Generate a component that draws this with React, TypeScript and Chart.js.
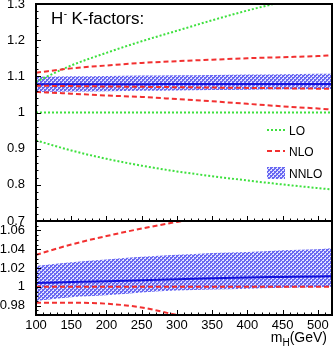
import React, { useEffect, useRef } from "react";
import { Chart, registerables } from "chart.js";

Chart.register(...registerables);

// ---------- data ----------
const massGeV = [100, 150, 200, 250, 300, 350, 400, 450, 500, 520];

// top panel: K-factors
const loUpper = [1.085, 1.13, 1.165, 1.197, 1.226, 1.255, 1.282, 1.306, 1.328, 1.336];
const loCentral = [1, 1, 1, 1, 1, 1, 1, 1, 1, 1];
const loLower = [0.923, 0.895, 0.872, 0.853, 0.837, 0.824, 0.812, 0.801, 0.791, 0.787];

const nloUpper = [1.11, 1.122, 1.13, 1.137, 1.142, 1.146, 1.15, 1.153, 1.156, 1.158];
const nloCentral = [1.074, 1.073, 1.072, 1.071, 1.07, 1.069, 1.068, 1.067, 1.066, 1.066];
const nloLower = [1.057, 1.052, 1.047, 1.043, 1.037, 1.031, 1.024, 1.017, 1.011, 1.008];

const nnloUpper = [1.099, 1.1, 1.101, 1.102, 1.103, 1.104, 1.105, 1.106, 1.107, 1.107];
const nnloCentral = [1.078, 1.078, 1.078, 1.078, 1.079, 1.079, 1.079, 1.079, 1.079, 1.079];
const nnloLower = [1.057, 1.058, 1.059, 1.06, 1.061, 1.062, 1.063, 1.064, 1.065, 1.065];

// bottom panel: normalised to NLO central
const nloUpperRatio = [1.034, 1.045, 1.054, 1.062, 1.069, 1.075, 1.08, 1.084, 1.088, 1.09];
const nloCentralRatio = [1, 1, 1, 1, 1, 1, 1, 1, 1, 1];
const nloLowerRatio = [0.983, 0.983, 0.982, 0.978, 0.97, 0.963, 0.957, 0.952, 0.948, 0.946];
const nnloUpperRatio = [1.022, 1.026, 1.029, 1.032, 1.034, 1.036, 1.037, 1.039, 1.04, 1.041];
const nnloCentralRatio = [1.004, 1.005, 1.006, 1.007, 1.008, 1.009, 1.01, 1.0105, 1.011, 1.0113];
const nnloLowerRatio = [0.985, 0.989, 0.991, 0.994, 0.996, 0.997, 0.998, 0.999, 0.9995, 1.0];

const legendLabels = ["LO", "NLO", "NNLO"];
const titleMain = "H";
const titleSup = "-";
const titleRest = "K-factors:";
const xTitleMain = "m";
const xTitleSub = "H";
const xTitleRest = "(GeV)";

// axis ranges / tick labels
const xRange = [100, 520];
const xTickLabels = [100, 150, 200, 250, 300, 350, 400, 450, 500];
const xMajorStep = 50;
const xMinorStep = 10;
const topYRange = [0.7, 1.3];
const topYTickLabels = [0.7, 0.8, 0.9, 1, 1.1, 1.2, 1.3];
const topYMajor = 0.1;
const topYMinor = 0.02;
const botYRange = [0.97, 1.07];
const botYTickLabels = [0.98, 1, 1.02, 1.04, 1.06];
const botYMajor = 0.02;
const botYMinor = 0.005;

// ---------- styling ----------
const FONT = "'Liberation Sans', Arial, Helvetica, sans-serif";
const GREEN = "#3ee03e";
const RED = "#f23030";
const BLUE = "#1414dc";

function makePattern(): CanvasPattern | string {
  const c = document.createElement("canvas");
  c.width = 4;
  c.height = 4;
  const g = c.getContext("2d");
  if (!g) return "rgb(130,130,240)";
  g.fillStyle = "rgb(105,105,242)";
  g.fillRect(0, 0, 4, 4);
  g.fillStyle = "rgb(228,228,255)";
  g.fillRect(0, 0, 2, 1);
  g.fillRect(2, 2, 2, 1);
  g.fillRect(3, 1, 1, 1);
  g.fillRect(1, 3, 1, 1);
  return g.createPattern(c, "repeat") || "rgb(130,130,240)";
}

const toXY = (ys: number[]) => massGeV.map((x, i) => ({ x, y: ys[i] }));

function line(label: string, ys: number[], color: string, dash: number[], order: number) {
  return {
    label,
    data: toXY(ys),
    borderColor: color,
    borderDash: dash,
    borderWidth: 2,
    pointRadius: 0,
    fill: false,
    cubicInterpolationMode: "monotone",
    order,
  };
}

function band(label: string, lower: number[], upper: number[], fillStyle: any, order: number) {
  return [
    {
      label: label + " low",
      data: toXY(lower),
      borderColor: "rgba(0,0,0,0)",
      borderWidth: 0,
      pointRadius: 0,
      fill: false,
      cubicInterpolationMode: "monotone",
      order,
    },
    {
      label,
      data: toXY(upper),
      borderColor: "rgba(0,0,0,0)",
      borderWidth: 0,
      pointRadius: 0,
      fill: "-1",
      backgroundColor: fillStyle,
      cubicInterpolationMode: "monotone",
      order,
    },
  ];
}

const fmt = (v: any) => String(parseFloat(Number(v).toFixed(3)));

function frameTicksPlugin(yMin: number, yMax: number, yMajor: number, yMinor: number) {
  return {
    id: "frameTicks",
    afterDatasetsDraw(chart: any) {
      const { ctx, chartArea: a, scales } = chart;
      const xs = scales.x;
      const ys = scales.y;
      ctx.save();
      ctx.strokeStyle = "#000";
      ctx.lineWidth = 1;
      ctx.setLineDash([]);
      ctx.beginPath();
      const ny = Math.round((yMax - yMin) / yMinor);
      for (let i = 0; i <= ny; i++) {
        const v = yMin + i * yMinor;
        const r = v / yMajor;
        const major = Math.abs(r - Math.round(r)) < 1e-6;
        const p = Math.round(ys.getPixelForValue(v)) + 0.5;
        const len = major ? 5 : 2.5;
        ctx.moveTo(a.left, p);
        ctx.lineTo(a.left + len, p);
      }
      const nx = Math.round((xRange[1] - xRange[0]) / xMinorStep);
      for (let i = 0; i <= nx; i++) {
        const v = xRange[0] + i * xMinorStep;
        const major = v % xMajorStep === 0;
        const p = Math.round(xs.getPixelForValue(v)) + 0.5;
        const len = major ? 5 : 2.5;
        ctx.moveTo(p, a.bottom);
        ctx.lineTo(p, a.bottom - len);
      }
      ctx.stroke();
      ctx.lineWidth = 2;
      ctx.strokeRect(a.left, a.top, a.right - a.left, a.bottom - a.top);
      ctx.restore();
    },
  };
}

function makeOptions(yRange: number[], yLabels: number[], padding: any, showX: boolean): any {
  return {
    responsive: false,
    animation: false,
    devicePixelRatio: 1,
    layout: { padding },
    plugins: { legend: { display: false }, tooltip: { enabled: false }, title: { display: false } },
    scales: {
      x: {
        type: "linear",
        min: xRange[0],
        max: xRange[1],
        display: showX,
        grid: { display: false, drawTicks: false },
        border: { display: false },
        afterBuildTicks: (s: any) => {
          s.ticks = xTickLabels.map((value) => ({ value }));
        },
        ticks: {
          autoSkip: false,
          maxRotation: 0,
          padding: 3,
          color: "#000",
          font: { family: FONT, size: 13 },
          callback: (v: any) => fmt(v),
        },
        afterFit: (s: any) => {
          s.height = showX ? 33 : 0;
          s.paddingLeft = 0;
          s.paddingRight = 0;
        },
      },
      y: {
        type: "linear",
        min: yRange[0],
        max: yRange[1],
        grid: { display: false, drawTicks: false },
        border: { display: false },
        afterBuildTicks: (s: any) => {
          s.ticks = yLabels.map((value) => ({ value }));
        },
        ticks: {
          autoSkip: false,
          padding: 11,
          color: "#000",
          font: { family: FONT, size: 13 },
          callback: (v: any) => fmt(v),
        },
        afterFit: (s: any) => {
          s.width = 36;
          s.paddingTop = 0;
          s.paddingBottom = 0;
        },
      },
    },
  };
}

const topTextPlugin = (pattern: any) => ({
  id: "topText",
  afterDraw(chart: any) {
    const { ctx } = chart;
    ctx.save();
    ctx.fillStyle = "#000";
    ctx.textBaseline = "alphabetic";
    ctx.textAlign = "left";
    // title
    ctx.font = `17px ${FONT}`;
    ctx.fillText(titleMain, 51, 23.5);
    const hw = ctx.measureText(titleMain).width;
    ctx.font = `10px ${FONT}`;
    ctx.fillText(titleSup, 51 + hw + 0.5, 16.5);
    ctx.font = `17px ${FONT}`;
    ctx.fillText(titleRest, 71.5, 23.5);

    // legend
    const x0 = 267;
    const x1 = 285;
    const tx = 289;
    ctx.lineWidth = 2;
    ctx.strokeStyle = GREEN;
    ctx.setLineDash([2, 2]);
    ctx.beginPath();
    ctx.moveTo(x0, 130);
    ctx.lineTo(x1, 130);
    ctx.stroke();
    ctx.strokeStyle = RED;
    ctx.setLineDash([5, 3]);
    ctx.beginPath();
    ctx.moveTo(x0, 151);
    ctx.lineTo(x1, 151);
    ctx.stroke();
    ctx.setLineDash([]);
    ctx.fillStyle = pattern;
    ctx.fillRect(x0, 167, x1 - x0, 12);
    ctx.fillStyle = "#000";
    ctx.font = `12px ${FONT}`;
    ctx.fillText(legendLabels[0], tx, 135);
    ctx.fillText(legendLabels[1], tx, 156);
    ctx.fillText(legendLabels[2], tx, 178);
    ctx.restore();
  },
});

const xTitlePlugin = {
  id: "xTitle",
  afterDraw(chart: any) {
    const { ctx } = chart;
    ctx.save();
    ctx.fillStyle = "#000";
    ctx.textBaseline = "alphabetic";
    ctx.textAlign = "left";
    const big = `14px ${FONT}`;
    const small = `10px ${FONT}`;
    ctx.font = big;
    const w1 = ctx.measureText(xTitleMain).width;
    const w3 = ctx.measureText(xTitleRest).width;
    ctx.font = small;
    const w2 = ctx.measureText(xTitleSub).width;
    const right = 327;
    const base = chart.height - 6;
    let x = right - (w1 + w2 + w3);
    ctx.font = big;
    ctx.fillText(xTitleMain, x, base);
    x += w1;
    ctx.font = small;
    ctx.fillText(xTitleSub, x, base + 3.5);
    x += w2;
    ctx.font = big;
    ctx.fillText(xTitleRest, x, base);
    ctx.restore();
  },
};

export default function App() {
  const topRef = useRef<HTMLCanvasElement | null>(null);
  const botRef = useRef<HTMLCanvasElement | null>(null);

  useEffect(() => {
    const pattern = makePattern();
    const topChart = new Chart(topRef.current as HTMLCanvasElement, {
      type: "line",
      data: {
        datasets: [
          line("NLO", nloCentral, RED, [5, 3], 1),
          line("NLO up", nloUpper, RED, [5, 3], 1),
          line("NLO low", nloLower, RED, [5, 3], 1),
          line("LO", loCentral, GREEN, [2, 2], 2),
          line("LO up", loUpper, GREEN, [2, 2], 2),
          line("LO low", loLower, GREEN, [2, 2], 2),
          line("NNLO central", nnloCentral, BLUE, [], 3),
          ...band("NNLO", nnloLower, nnloUpper, pattern, 4),
        ] as any,
      },
      options: makeOptions(topYRange, topYTickLabels, { left: 0, right: 1, top: 4, bottom: 9 }, false),
      plugins: [frameTicksPlugin(topYRange[0], topYRange[1], topYMajor, topYMinor), topTextPlugin(pattern)],
    });
    const botChart = new Chart(botRef.current as HTMLCanvasElement, {
      type: "line",
      data: {
        datasets: [
          line("NLO", nloCentralRatio, RED, [5, 3], 1),
          line("NLO up", nloUpperRatio, RED, [5, 3], 1),
          line("NLO low", nloLowerRatio, RED, [5, 3], 1),
          line("NNLO central", nnloCentralRatio, BLUE, [], 2),
          ...band("NNLO", nnloLowerRatio, nnloUpperRatio, pattern, 3),
        ] as any,
      },
      options: makeOptions(botYRange, botYTickLabels, { left: 0, right: 1, top: 11, bottom: 0 }, true),
      plugins: [frameTicksPlugin(botYRange[0], botYRange[1], botYMajor, botYMinor), xTitlePlugin],
    });
    return () => {
      topChart.destroy();
      botChart.destroy();
    };
  }, []);

  return (
    <div style={{ position: "absolute", left: 0, top: 0, width: 333, height: 348, background: "#fff" }}>
      <canvas ref={topRef} width={333} height={230} style={{ position: "absolute", left: 0, top: 0, display: "block" }} />
      <canvas ref={botRef} width={333} height={138} style={{ position: "absolute", left: 0, top: 210, display: "block" }} />
    </div>
  );
}
